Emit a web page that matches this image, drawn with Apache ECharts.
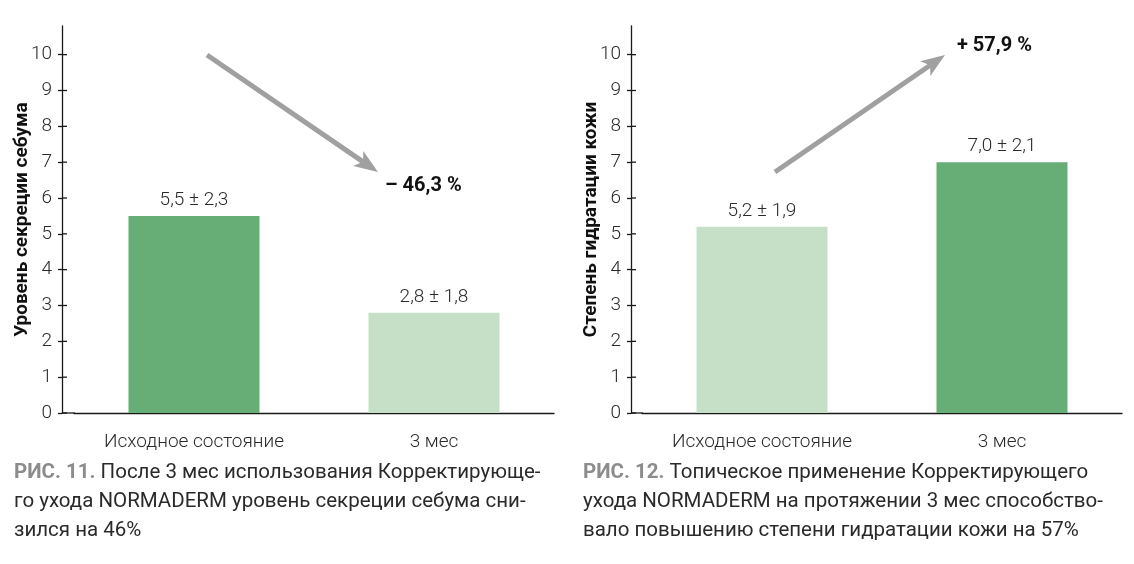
<!DOCTYPE html>
<html>
<head>
<meta charset="utf-8">
<script src="https://cdn.jsdelivr.net/npm/echarts@6/dist/echarts.min.js"></script>
<style>
html,body{margin:0;padding:0;background:#fff;}
#c{width:1134px;height:564px;}
</style>
</head>
<body>
<div id="c"></div>
<script>
// ---- data ----
var categories = ['Исходное состояние', '3 мес'];
var sebumValues = [5.5, 2.8];
var sebumLabels = ['5,5 ± 2,3', '2,8 ± 1,8'];
var hydraValues = [5.2, 7.0];
var hydraLabels = ['5,2 ± 1,9', '7,0 ± 2,1'];
var yTicks = [0, 1, 2, 3, 4, 5, 6, 7, 8, 9, 10];
var sebumTitle = 'Уровень секреции себума';
var hydraTitle = 'Степень гидратации кожи';
var sebumChange = '– 46,3 %';
var hydraChange = '+ 57,9 %';
var caption1 = ['После 3 мес использования Корректирующе-', 'го ухода NORMADERM уровень секреции себума сни-', 'зился на 46%'];
var caption2 = ['Топическое применение Корректирующего', 'ухода NORMADERM на протяжении 3 мес способство-', 'вало повышению степени гидратации кожи на 57%'];
var fig1 = 'РИС. 11.';
var fig2 = 'РИС. 12.';

var DARK = '#66ad76';
var LIGHT = '#c6dfc7';
var FONT = 'Roboto, "Noto Sans", sans-serif';
var TXT = '#2a2a2a';
var AXIS = '#1a1a1a';

var chart = echarts.init(document.getElementById('c'), null, {renderer: 'canvas'});

var grids = [
  {left: 74, width: 480, top: 26, height: 387},
  {left: 642, width: 480, top: 26, height: 387}
];
var yOffsets = [12, 11];

function xAxis(i) {
  return {
    type: 'category', gridIndex: i, data: categories,
    axisLine: {lineStyle: {color: AXIS, width: 1.3}},
    axisTick: {show: false},
    axisLabel: {fontFamily: FONT, fontSize: 19, fontWeight: 300, color: TXT, margin: 20}
  };
}
function yAxis(i, title) {
  return {
    type: 'value', gridIndex: i, min: 0, max: 10.8, offset: yOffsets[i], position: 'left',
    name: title, nameLocation: 'middle', nameGap: 30, nameRotate: 90, nameMoveOverlap: false,
    nameTextStyle: {fontFamily: FONT, fontSize: 19, fontWeight: 'bold', color: '#111'},
    splitLine: {show: false},
    axisLine: {show: true, lineStyle: {color: AXIS, width: 1.3}},
    axisTick: {show: true, length: 4, customValues: yTicks, lineStyle: {color: AXIS, width: 1.3}},
    axisLabel: {customValues: yTicks, fontFamily: FONT, fontSize: 19, fontWeight: 300, color: TXT, margin: 10}
  };
}

function barSeries(i, values, labels, colors) {
  return {
    type: 'bar', xAxisIndex: i, yAxisIndex: i, barWidth: 131,
    data: values.map(function (v, k) {
      return {value: v, itemStyle: {color: colors[k]}, label: {formatter: labels[k]}};
    }),
    label: {show: true, position: 'top', distance: 6, fontFamily: FONT, fontSize: 19, fontWeight: 300, color: TXT},
    silent: true
  };
}

// inner half of the crossing y-axis ticks
function innerTicks(i) {
  return {
    type: 'custom', xAxisIndex: i, yAxisIndex: i, silent: true, clip: false, z: 5,
    data: yTicks.map(function (v) { return [0, v]; }),
    renderItem: function (params, api) {
      var p = api.coord([0, api.value(1)]);
      var x0 = params.coordSys.x - yOffsets[i];
      return {
        type: 'line', shape: {x1: x0, y1: p[1], x2: x0 + 5, y2: p[1]},
        style: {stroke: AXIS, lineWidth: 1.3}
      };
    }
  };
}

// arrows (annotation graphics)
function arrow(x1, y1, x2, y2) {
  var dx = x2 - x1, dy = y2 - y1, L = Math.sqrt(dx * dx + dy * dy);
  var ux = dx / L, uy = dy / L, px = -uy, py = ux;
  var hl = 24, hw = 9, notch = 6;
  var bx = x2 - ux * hl, by = y2 - uy * hl;
  var nx = x2 - ux * (hl - notch), ny = y2 - uy * (hl - notch);
  return [
    {type: 'line', shape: {x1: x1, y1: y1, x2: nx, y2: ny}, style: {stroke: '#a0a0a0', lineWidth: 5}, silent: true},
    {type: 'polygon', shape: {points: [[x2, y2], [bx + px * hw, by + py * hw], [nx, ny], [bx - px * hw, by - py * hw]]},
      style: {fill: '#a0a0a0'}, silent: true}
  ];
}

function caption(x, fig, lines) {
  var out = [];
  lines.forEach(function (ln, k) {
    out.push({
      type: 'text', left: x, top: 462 + k * 29,
      style: {
        text: k === 0 ? '{b|' + fig + '} ' + ln : ln,
        font: '400 20.5px ' + FONT, fill: '#2a2a2a',
        rich: {b: {fontFamily: FONT, fontSize: 20.5, fontWeight: 'bold', fill: '#8c8c8c', color: '#8c8c8c'}}
      }, silent: true
    });
  });
  return out;
}

var graphics = [].concat(
  arrow(207, 55, 378, 172),
  arrow(775, 172, 945, 55),
  [
    {type: 'text', left: 385, top: 176, style: {text: sebumChange, font: 'bold 20px ' + FONT, fill: '#111'}, silent: true},
    {type: 'text', left: 957, top: 36, style: {text: hydraChange, font: 'bold 20px ' + FONT, fill: '#111'}, silent: true},
    {type: 'line', shape: {x1: 62, y1: 413, x2: 75, y2: 413}, style: {stroke: AXIS, lineWidth: 1.3}, silent: true},
    {type: 'line', shape: {x1: 631, y1: 413, x2: 643, y2: 413}, style: {stroke: AXIS, lineWidth: 1.3}, silent: true}
  ],
  caption(14, fig1, caption1),
  caption(583, fig2, caption2)
);

chart.setOption({
  animation: false,
  backgroundColor: '#fff',
  grid: grids,
  xAxis: [xAxis(0), xAxis(1)],
  yAxis: [yAxis(0, sebumTitle), yAxis(1, hydraTitle)],
  series: [
    barSeries(0, sebumValues, sebumLabels, [DARK, LIGHT]),
    barSeries(1, hydraValues, hydraLabels, [LIGHT, DARK]),
    innerTicks(0),
    innerTicks(1)
  ],
  graphic: graphics
});
</script>
</body>
</html>
